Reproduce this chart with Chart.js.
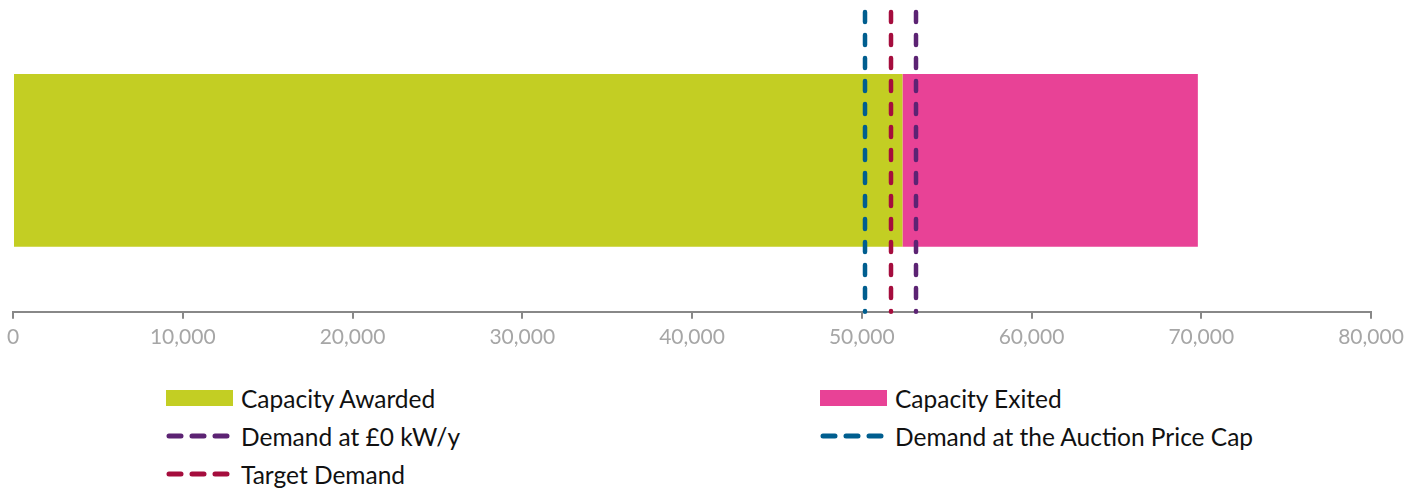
<!DOCTYPE html>
<html>
<head>
<meta charset="utf-8">
<script src="https://cdn.jsdelivr.net/npm/chart.js@4/dist/chart.umd.min.js"></script>
<style>
  html, body { margin: 0; padding: 0; background: #fff; }
  #wrap { position: relative; width: 1422px; height: 491px; }
  #chartBox { position: absolute; left: 0; top: 0; width: 1422px; height: 356px; }
  #legend { position: absolute; left: 166px; top: 379px; width: 1250px; font-family: Lato, "Open Sans", sans-serif; font-size: 24.5px; color: #111; }
  .item { position: absolute; display: flex; align-items: center; height: 38px; white-space: nowrap; }
  .sw { width: 67px; height: 16px; margin-right: 8px; }
  .dash { width: 67px; height: 6px; margin-right: 8px; }
</style>
</head>
<body>
<div id="wrap">
  <div id="chartBox"><canvas id="c"></canvas></div>
  <div id="legend"></div>
</div>
<script>
// ---- data ----
const categories = ["Capacity"];
const barSeriesNames = ["Capacity Awarded", "Capacity Exited"];
const capacityAwarded = [52400];
const capacityExited = [17400];
const lineSeriesNames = ["Demand at £0 kW/y", "Demand at the Auction Price Cap", "Target Demand"];
const demandLevels = [53200, 50200, 51700];
const xTicks = [0, 10000, 20000, 30000, 40000, 50000, 60000, 70000, 80000];

// ---- styles ----
const barColors = ["#C3CE23", "#E84296"];
const lineColors = ["#5C2373", "#005E8F", "#A50D3D"];

const vLinePlugin = {
  id: 'vlines',
  afterDatasetsDraw(chart) {
    const ctx = chart.ctx;
    const xs = chart.scales.x;
    const bottom = chart.chartArea.bottom;
    ctx.save();
    ctx.lineWidth = 4.5;
    ctx.lineCap = 'round';
    ctx.setLineDash([10, 13]);
    demandLevels.forEach((v, i) => {
      const px = Math.round(xs.getPixelForValue(v));
      ctx.strokeStyle = lineColors[i];
      ctx.beginPath();
      ctx.moveTo(px, 12);
      ctx.lineTo(px, bottom);
      ctx.stroke();
    });
    ctx.restore();
  }
};

new Chart(document.getElementById('c'), {
  type: 'bar',
  data: {
    labels: categories,
    datasets: [
      { label: barSeriesNames[0], data: capacityAwarded, backgroundColor: barColors[0], borderWidth: 0 },
      { label: barSeriesNames[1], data: capacityExited, backgroundColor: barColors[1], borderWidth: 0 }
    ]
  },
  options: {
    indexAxis: 'y',
    responsive: true,
    maintainAspectRatio: false,
    animation: false,
    layout: { padding: { left: 13, right: 51, top: 9, bottom: 0 } },
    plugins: { legend: { display: false }, tooltip: { enabled: false } },
    datasets: { bar: { categoryPercentage: 1, barPercentage: 0.57 } },
    scales: {
      x: {
        stacked: true,
        min: 0, max: 80000,
        afterBuildTicks(scale) { scale.ticks = xTicks.map(v => ({ value: v })); },
        grid: { display: true, drawOnChartArea: false, drawTicks: true, tickLength: 7, lineWidth: 2, color: '#888888' },
        border: { display: true, color: '#888888', width: 2 },
        ticks: {
          color: '#A6A6A6',
          font: { family: 'Lato, "Open Sans", sans-serif', size: 21 },
          padding: 6,
          maxRotation: 0,
          callback: (v) => Number(v).toLocaleString('en-GB')
        }
      },
      y: { stacked: true, display: false }
    }
  },
  plugins: [vLinePlugin]
});

// ---- HTML legend ----
const legend = document.getElementById('legend');
const items = [
  { name: barSeriesNames[0], color: barColors[0], kind: 'box', col: 0, row: 0 },
  { name: barSeriesNames[1], color: barColors[1], kind: 'box', col: 1, row: 0 },
  { name: lineSeriesNames[0], color: lineColors[0], kind: 'dash', col: 0, row: 1 },
  { name: lineSeriesNames[1], color: lineColors[1], kind: 'dash', col: 1, row: 1 },
  { name: lineSeriesNames[2], color: lineColors[2], kind: 'dash', col: 0, row: 2 }
];
items.forEach(it => {
  const d = document.createElement('div');
  d.className = 'item';
  d.style.left = (it.col * 654) + 'px';
  d.style.top = (it.row * 38) + 'px';
  if (it.kind === 'box') {
    const s = document.createElement('div');
    s.className = 'sw';
    s.style.background = it.color;
    d.appendChild(s);
  } else {
    const cv = document.createElement('canvas');
    cv.width = 67; cv.height = 6;
    cv.className = 'dash';
    const g = cv.getContext('2d');
    g.strokeStyle = it.color; g.lineWidth = 5; g.lineCap = 'round';
    g.setLineDash([12, 11]);
    g.beginPath(); g.moveTo(3, 3); g.lineTo(64, 3); g.stroke();
    d.appendChild(cv);
  }
  const t = document.createElement('span');
  t.textContent = it.name;
  d.appendChild(t);
  legend.appendChild(d);
});
</script>
</body>
</html>
